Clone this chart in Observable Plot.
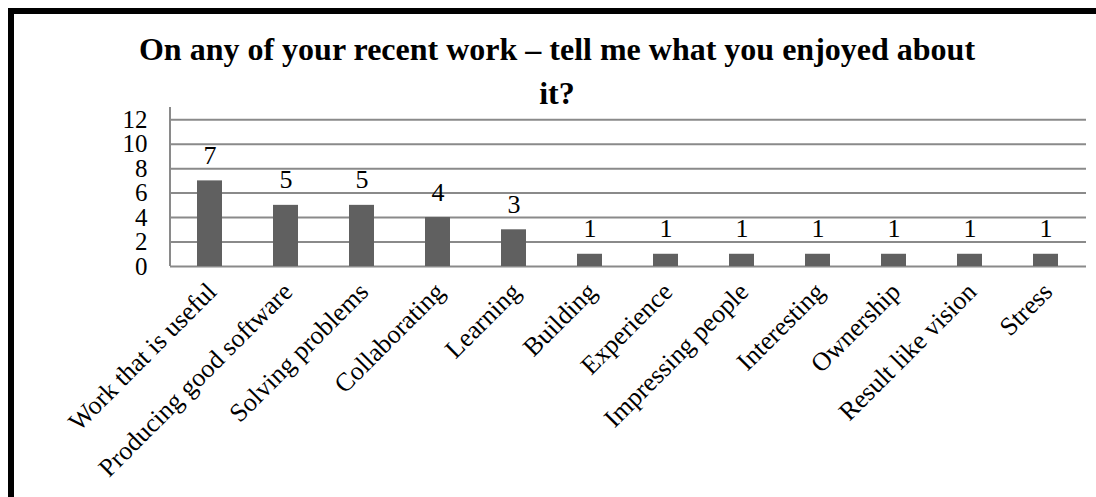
<!DOCTYPE html>
<html>
<head>
<meta charset="utf-8">
<script src="https://cdn.jsdelivr.net/npm/d3@7"></script>
<script src="https://cdn.jsdelivr.net/npm/@observablehq/plot@0.6"></script>
<style>
  html, body { margin: 0; padding: 0; background: #fff; }
  body { width: 1096px; height: 497px; position: relative; overflow: hidden; font-family: "Liberation Serif", "Times New Roman", serif; }
  #frame { position: absolute; left: 8px; top: 8px; width: 1088px; height: 489px; box-sizing: border-box; border-top: 6px solid #000; border-left: 6px solid #000; }
  #title { position: absolute; z-index: 2; left: 57px; top: 27px; width: 1000px; text-align: center; font-weight: bold; font-size: 32px; line-height: 44px; color: #000; font-family: "Liberation Serif", serif; }
  #chart { position: absolute; z-index: 1; left: 14px; top: 100px; }
</style>
</head>
<body>
<div id="frame"></div>
<div id="title">On any of your recent work – tell me what you enjoyed about<br>it?</div>
<div id="chart"></div>
<script>
const categories = ["Work that is useful", "Producing good software", "Solving problems", "Collaborating", "Learning", "Building", "Experience", "Impressing people", "Interesting", "Ownership", "Result like vision", "Stress"];
const counts = [7, 5, 5, 4, 3, 1, 1, 1, 1, 1, 1, 1];
const yTicks = [0, 2, 4, 6, 8, 10, 12];

const data = categories.map((c, i) => ({category: c, count: counts[i]}));

const leftAxisLine = (index, scales, values, dims) => {
  const ns = "http://www.w3.org/2000/svg";
  const l = document.createElementNS(ns, "line");
  l.setAttribute("x1", dims.marginLeft);
  l.setAttribute("x2", dims.marginLeft);
  l.setAttribute("y1", dims.marginTop);
  l.setAttribute("y2", dims.height - dims.marginBottom);
  l.setAttribute("stroke", "#8a8a8a");
  l.setAttribute("stroke-width", 2);
  return l;
};

const chart = Plot.plot({
  width: 1082,
  height: 397,
  marginLeft: 156,
  marginRight: 10,
  marginTop: 7,
  marginBottom: 231,
  style: {fontFamily: "Liberation Serif, serif", color: "#000", background: "transparent", overflow: "visible"},
  x: {domain: categories, paddingInner: 0.67, paddingOuter: 0.335, label: null},
  y: {domain: [0, 13], label: null},
  marks: [
    Plot.ruleY(yTicks, {stroke: "#8a8a8a", strokeWidth: 2}),
    leftAxisLine,
    Plot.barY(data, {x: "category", y: "count", fill: "#606060"}),
    Plot.text(data, {x: "category", y: "count", text: d => String(d.count), lineAnchor: "bottom", dy: -17, fontSize: 26, fill: "#000"}),
    Plot.axisY({ticks: yTicks, tickSize: 0, tickPadding: 23, fontSize: 25, label: null, tickFormat: d => String(d)}),
    Plot.axisX({tickSize: 0, tickPadding: 21, tickRotate: -45, dx: 2, fontSize: 26, label: null})
  ]
});
document.getElementById("chart").appendChild(chart);
</script>
</body>
</html>
